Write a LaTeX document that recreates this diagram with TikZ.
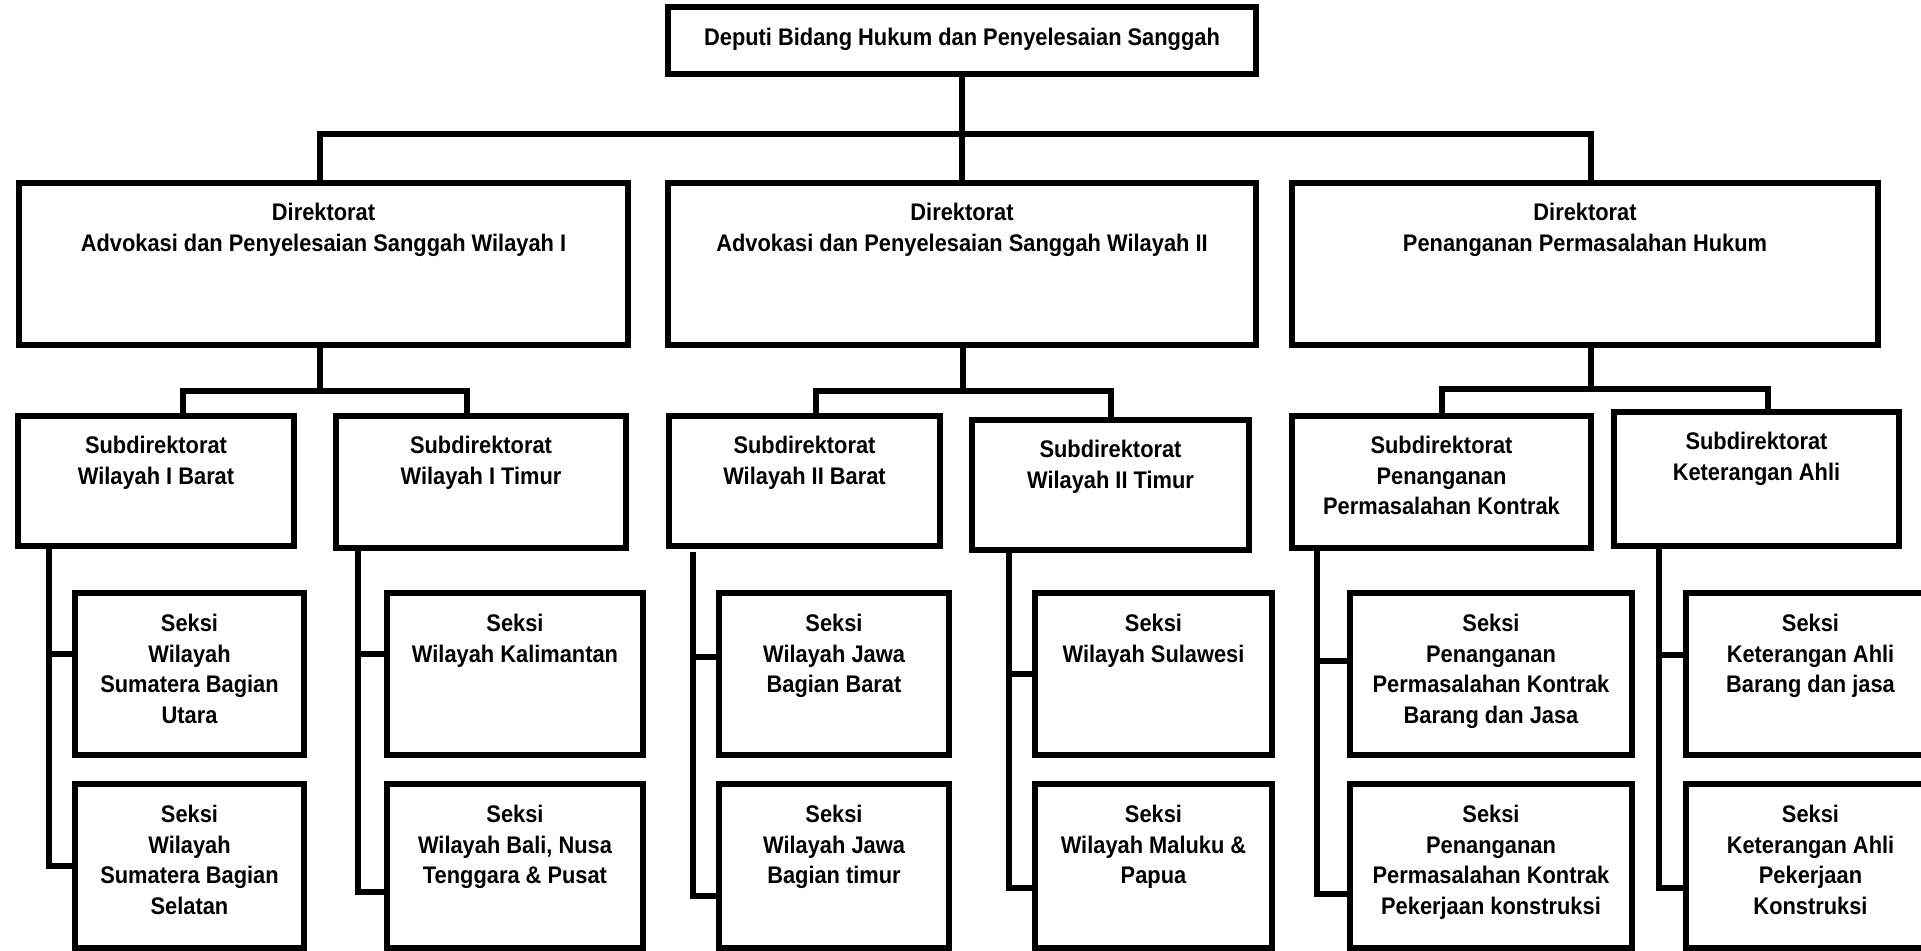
\documentclass[tikz,border=0pt]{standalone}
\usepackage{fontspec}
\setmainfont{Liberation Sans}[FakeStretch=0.91]
\usetikzlibrary{positioning}

\begin{document}
\begin{tikzpicture}[x=1pt,y=-1pt,
        unit/.style={draw,line width=6pt,inner sep=0pt},
        lbl/.style={align=center,inner sep=0pt,font=\bfseries\fontsize{24}{30.5}\selectfont},
        link/.style={line width=6pt}]
        \useasboundingbox(0,0)rectangle(1921,950);

        \node[unit,minimum width=588,minimum height=67](deputi)at(962,40.5){};
        \node[lbl,below=24pt of deputi.north](tdeputi){Deputi Bidang Hukum dan Penyelesaian Sanggah};

        \node[unit,minimum width=609,minimum height=162](dirA)at(323.5,264){};
        \node[unit,minimum width=588,minimum height=162](dirB)at(962,264){};
        \node[unit,minimum width=586,minimum height=162](dirC)at(1585,264){};
        \node[lbl,below=23pt of dirA.north](tdirA){Direktorat\\Advokasi dan Penyelesaian Sanggah Wilayah I};
        \node[lbl,below=23pt of dirB.north](tdirB){Direktorat\\Advokasi dan Penyelesaian Sanggah Wilayah II};
        \node[lbl,below=23pt of dirC.north](tdirC){Direktorat\\Penanganan Permasalahan Hukum};

        \node[unit,minimum width=276,minimum height=130](subA1)at(156,481){};
        \node[unit,minimum width=290,minimum height=132](subA2)at(481,482){};
        \node[unit,minimum width=271,minimum height=130](subB1)at(804.5,481){};
        \node[unit,minimum width=277,minimum height=130](subB2)at(1110.5,485){};
        \node[unit,minimum width=299,minimum height=132](subC1)at(1441.5,482){};
        \node[unit,minimum width=285,minimum height=134](subC2)at(1756.5,479){};
        \node[lbl,below=23pt of subA1.north](tsubA1){Subdirektorat\\Wilayah I Barat};
        \node[lbl,below=23pt of subA2.north](tsubA2){Subdirektorat\\Wilayah I Timur};
        \node[lbl,below=23pt of subB1.north](tsubB1){Subdirektorat\\Wilayah II Barat};
        \node[lbl,below=23pt of subB2.north](tsubB2){Subdirektorat\\Wilayah II Timur};
        \node[lbl,below=23pt of subC1.north](tsubC1){Subdirektorat\\Penanganan\\Permasalahan Kontrak};
        \node[lbl,below=23pt of subC2.north](tsubC2){Subdirektorat\\Keterangan Ahli};

        \node[unit,minimum width=229,minimum height=162](sekA1)at(189.5,674){};
        \node[unit,minimum width=229,minimum height=164](sekA2)at(189.5,866){};
        \node[unit,minimum width=256,minimum height=162](sekA3)at(515,674){};
        \node[unit,minimum width=256,minimum height=164](sekA4)at(515,866){};
        \node[unit,minimum width=230,minimum height=162](sekB1)at(834,674){};
        \node[unit,minimum width=230,minimum height=164](sekB2)at(834,866){};
        \node[unit,minimum width=237,minimum height=162](sekB3)at(1153.5,674){};
        \node[unit,minimum width=237,minimum height=164](sekB4)at(1153.5,866){};
        \node[unit,minimum width=282,minimum height=162](sekC1)at(1491,674){};
        \node[unit,minimum width=282,minimum height=164](sekC2)at(1491,866){};
        \node[unit,minimum width=249,minimum height=162](sekC3)at(1810.5,674){};
        \node[unit,minimum width=249,minimum height=164](sekC4)at(1810.5,866){};
        \node[lbl,below=24pt of sekA1.north](tsekA1){Seksi\\Wilayah\\Sumatera Bagian\\Utara};
        \node[lbl,below=24pt of sekA2.north](tsekA2){Seksi\\Wilayah\\Sumatera Bagian\\Selatan};
        \node[lbl,below=24pt of sekA3.north](tsekA3){Seksi\\Wilayah Kalimantan};
        \node[lbl,below=24pt of sekA4.north](tsekA4){Seksi\\Wilayah Bali, Nusa\\Tenggara \& Pusat};
        \node[lbl,below=24pt of sekB1.north](tsekB1){Seksi\\Wilayah Jawa\\Bagian Barat};
        \node[lbl,below=24pt of sekB2.north](tsekB2){Seksi\\Wilayah Jawa\\Bagian timur};
        \node[lbl,below=24pt of sekB3.north](tsekB3){Seksi\\Wilayah Sulawesi};
        \node[lbl,below=24pt of sekB4.north](tsekB4){Seksi\\Wilayah Maluku \&\\Papua};
        \node[lbl,below=24pt of sekC1.north](tsekC1){Seksi\\Penanganan\\Permasalahan Kontrak\\Barang dan Jasa};
        \node[lbl,below=24pt of sekC2.north](tsekC2){Seksi\\Penanganan\\Permasalahan Kontrak\\Pekerjaan konstruksi};
        \node[lbl,below=24pt of sekC3.north](tsekC3){Seksi\\Keterangan Ahli\\Barang dan jasa};
        \node[lbl,below=24pt of sekC4.north](tsekC4){Seksi\\Keterangan Ahli\\Pekerjaan\\Konstruksi};

        \coordinate(bus)at(962,134);
        \draw[link](deputi.south)--(dirB.north);
        \draw[link]([xshift=-3.5pt]dirA.north)|-(bus)-|([xshift=6pt]dirC.north);

        \coordinate(busA)at(320,391);
        \coordinate(busB)at(963,391);
        \coordinate(busC)at(1591,389);
        \draw[link]([xshift=-3.5pt]dirA.south)--(busA);
        \draw[link]([xshift=1pt]dirB.south)--(busB);
        \draw[link]([xshift=6pt]dirC.south)--(busC);
        \draw[link]([xshift=27pt]subA1.north)|-(busA)-|([xshift=-14pt]subA2.north);
        \draw[link]([xshift=11.5pt]subB1.north)|-(busB)-|(subB2.north);
        \draw[link](subC1.north)|-(busC)-|([xshift=11.5pt]subC2.north);

        \draw[link]([xshift=34pt]subA1.south west)|-([yshift=20pt]sekA1.west);
        \draw[link]([xshift=34pt]subA1.south west)|-(sekA2.west);
        \draw[link]([xshift=25pt]subA2.south west)|-([yshift=20pt]sekA3.west);
        \draw[link]([xshift=25pt]subA2.south west)|-([yshift=-26pt]sekA4.west);
        \draw[link]([xshift=27pt,yshift=-3pt]subB1.south west)|-([yshift=17pt]sekB1.west);
        \draw[link]([xshift=27pt,yshift=-3pt]subB1.south west)|-([yshift=-30pt]sekB2.west);
        \draw[link]([xshift=40pt]subB2.south west)|-(sekB3.west);
        \draw[link]([xshift=40pt]subB2.south west)|-([yshift=-22pt]sekB4.west);
        \draw[link]([xshift=28pt]subC1.south west)|-([yshift=13pt]sekC1.west);
        \draw[link]([xshift=28pt]subC1.south west)|-([yshift=-28pt]sekC2.west);
        \draw[link]([xshift=48pt]subC2.south west)|-([yshift=19pt]sekC3.west);
        \draw[link]([xshift=48pt]subC2.south west)|-([yshift=-22pt]sekC4.west);
    \end{tikzpicture}
\end{document}
